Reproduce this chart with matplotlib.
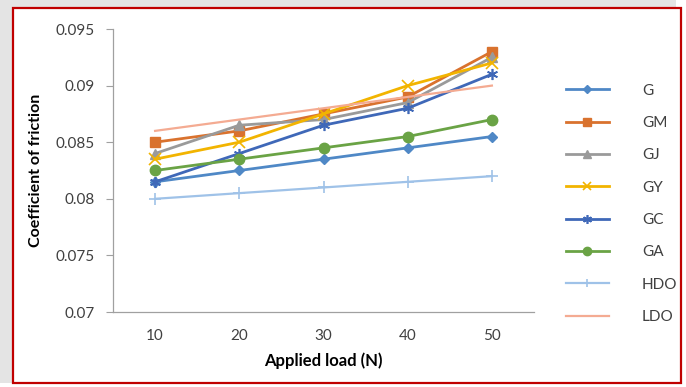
import numpy as np
import matplotlib
matplotlib.use("Agg")
import matplotlib.pyplot as plt
from matplotlib.patches import Rectangle

plt.rcParams['font.family'] = ['Lato', 'DejaVu Sans']

loads = ["10", "20", "30", "40", "50"]
names = ["G", "GM", "GJ", "GY", "GC", "GA", "HDO", "LDO"]
G = [0.0815, 0.0825, 0.0835, 0.0845, 0.0855]
GM = [0.085, 0.086, 0.0875, 0.089, 0.093]
GJ = [0.084, 0.0865, 0.087, 0.0885, 0.0925]
GY = [0.0835, 0.085, 0.0875, 0.090, 0.092]
GC = [0.0815, 0.084, 0.0865, 0.088, 0.091]
GA = [0.0825, 0.0835, 0.0845, 0.0855, 0.087]
HDO = [0.080, 0.0805, 0.081, 0.0815, 0.082]
LDO = [0.086, 0.087, 0.088, 0.089, 0.090]
series = [G, GM, GJ, GY, GC, GA, HDO, LDO]

colors = ["#4f88c6", "#d9722e", "#9a9a9a", "#f2b400", "#3f68b8", "#6aa345", "#9fc2e8", "#f4ab92"]
markers = ["D", "s", "^", "x", (6, 2, 0), "o", "+", None]
msizes = [5.5, 7, 7.5, 8, 8, 7.5, 8, 0]

fig = plt.figure(figsize=(6.86, 3.87), dpi=100)
fig.patch.set_facecolor("white")
# shadow + red frame
fig.patches.append(Rectangle((0, 0.01), 0.985, 0.99, transform=fig.transFigure,
                             facecolor="#e4e4e4", edgecolor="none", zorder=-3))
fig.patches.append(Rectangle((13/686, 4/387), 668/686, 375/387, transform=fig.transFigure,
                             facecolor="white", edgecolor="#c00000", lw=1.6, zorder=-2))

ax = fig.add_axes([113/686, 1-312/387, 421/686, 283/387])
ax.set_facecolor("none")
x = np.arange(len(loads))
for name, vals, c, m, ms in zip(names, series, colors, markers, msizes):
    lw = 1.6 if name in ("HDO", "LDO") else 2
    ax.plot(x, vals, color=c, lw=lw, marker=m, ms=ms, mew=1.2 if m in ("x", "+", (6, 2, 0)) else 1,
            label=name)

ax.set_xlim(-0.5, len(loads)-0.5)
ax.set_ylim(0.07, 0.095)
ax.set_yticks([0.07, 0.075, 0.08, 0.085, 0.09, 0.095])
ax.set_yticklabels(["0.07", "0.075", "0.08", "0.085", "0.09", "0.095"])
ax.set_xticks(x)
ax.set_xticklabels(loads)
for s in ("top", "right"):
    ax.spines[s].set_visible(False)
for s in ("left", "bottom"):
    ax.spines[s].set_color("#a0a0a0")
    ax.spines[s].set_linewidth(0.9)
ax.tick_params(axis="y", length=5, color="#a0a0a0", labelsize=11, labelcolor="#404040", pad=8)
ax.tick_params(axis="x", length=0, labelsize=11, labelcolor="#404040", pad=12)
ax.set_xlabel("Applied load (N)", fontsize=12, fontweight="bold", labelpad=7)
ax.set_ylabel("Coefficient of friction", fontsize=11.5, fontweight="bold", labelpad=9)

leg = fig.legend(loc="upper left", bbox_to_anchor=(552/686, 1-70/387), frameon=False,
                 fontsize=11, labelspacing=1.2, handlelength=2.8, handletextpad=1.6,
                 markerscale=0.8)
for t in leg.get_texts():
    t.set_color("#404040")
    t.set_ha("center")
    t.set_position((9, 0))

fig.savefig("out.png", dpi=100)
